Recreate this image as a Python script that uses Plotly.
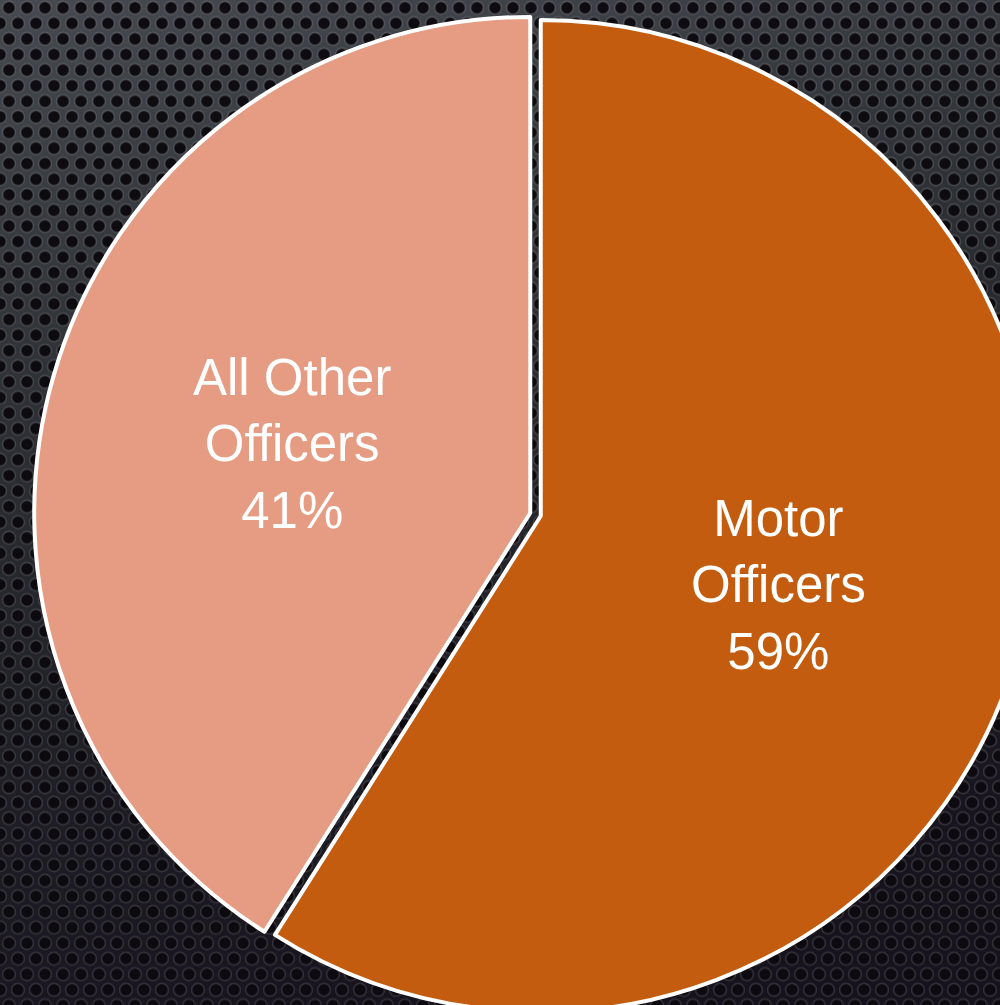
import base64
import math
import plotly.graph_objects as go

# Share of officers by assignment
categories = ["Motor Officers", "All Other Officers"]
label_lines = ["Motor<br>Officers", "All Other<br>Officers"]
shares = [59, 41]
slice_colors = ["#C45C0F", "#E59C83"]

W, H = 1071, 1029          # canvas (wider than the window, so the pie runs off the edges)
PIE_BOX = 1003             # square box the pie is fitted into
PULL = 0.011

# Perforated metal plate used as the page backdrop
pitch = 18.0
row = pitch * math.sqrt(3) / 2
svg = f"""<svg xmlns='http://www.w3.org/2000/svg' width='{W}' height='{H}' viewBox='0 0 {W} {H}'>
<defs>
 <linearGradient id='plate' x1='0' y1='0' x2='0.35' y2='1'>
  <stop offset='0' stop-color='#46494f'/>
  <stop offset='0.45' stop-color='#303338'/>
  <stop offset='1' stop-color='#1d1a24'/>
 </linearGradient>
 <linearGradient id='shade' x1='0' y1='0' x2='0' y2='1'>
  <stop offset='0' stop-color='#000' stop-opacity='0'/>
  <stop offset='1' stop-color='#0a0510' stop-opacity='0.35'/>
 </linearGradient>
 <pattern id='holes' patternUnits='userSpaceOnUse' width='{pitch}' height='{2*row:.3f}'>
  <g fill='#0e0c10' stroke='#6e7177' stroke-opacity='0.5' stroke-width='1.6'>
   <circle cx='{pitch/2}' cy='{row/2:.3f}' r='6.4'/>
   <circle cx='0' cy='{1.5*row:.3f}' r='6.4'/>
   <circle cx='{pitch}' cy='{1.5*row:.3f}' r='6.4'/>
  </g>
 </pattern>
</defs>
<rect width='{W}' height='{H}' fill='url(#plate)'/>
<rect width='{W}' height='{H}' fill='url(#holes)'/>
<rect width='{W}' height='{H}' fill='url(#shade)'/>
</svg>"""
backdrop = "data:image/svg+xml;base64," + base64.b64encode(svg.encode()).decode()

ypad = (H - PIE_BOX) / 2 / H

fig = go.Figure(
    go.Pie(
        labels=categories,
        values=shares,
        sort=False,
        direction="clockwise",
        rotation=0,
        pull=[PULL] * len(shares),
        marker=dict(colors=slice_colors, line=dict(color="white", width=4)),
        textinfo="none",
        hoverinfo="label+percent",
        domain=dict(x=[0, 1], y=[ypad, 1 - ypad]),
        showlegend=False,
    )
)

# Labels sit halfway out along each slice's mid-angle
radius = PIE_BOX / (2 + 2 * PULL)
total = sum(shares)
start = 0.0
annotations = []
for name, lines, v in zip(categories, label_lines, shares):
    mid = (start + v / 2) / total * 2 * math.pi
    start += v
    dist = 0.5 * radius + PULL * radius
    px = W / 2 + dist * math.sin(mid)
    py = H / 2 - dist * math.cos(mid)
    annotations.append(
        dict(
            x=px / W, y=1 - py / H, xref="paper", yref="paper",
            text=f"{lines}<br>{round(v / total * 100)}%",
            showarrow=False, xanchor="center", yanchor="middle", align="center",
            font=dict(family="Arial", size=51, color="white"),
        )
    )

fig.update_layout(
    width=W, height=H,
    margin=dict(l=0, r=0, t=0, b=0),
    paper_bgcolor="#2a2c31",
    plot_bgcolor="#2a2c31",
    annotations=annotations,
    images=[dict(source=backdrop, xref="paper", yref="paper", x=0, y=1,
                 sizex=1, sizey=1, xanchor="left", yanchor="top",
                 sizing="stretch", layer="below")],
)

fig.write_html(
    "out.html",
    config={"displayModeBar": False},
    post_script="document.documentElement.style.overflow='hidden';"
                "document.body.style.overflow='hidden';document.body.style.margin='0';",
)
